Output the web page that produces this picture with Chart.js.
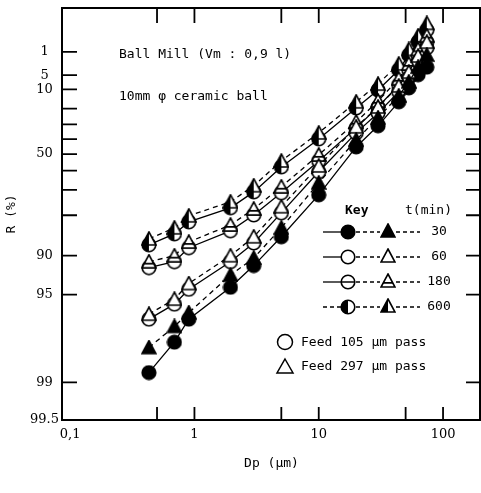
<!DOCTYPE html>
<html><head><meta charset="utf-8">
<script src="https://cdn.jsdelivr.net/npm/chart.js@4.4.0/dist/chart.umd.min.js"></script>
<style>html,body{margin:0;padding:0;background:#fff;overflow:hidden;}#wrap{width:481px;height:493px;position:relative;}canvas{display:block;}</style>
</head><body><div id="wrap"><canvas id="c"></canvas></div>
<script>
// Particle size Dp (um)
const sizes = [0.43, 0.69, 0.9, 1.95, 3, 5, 10, 20, 30, 44, 53, 63, 74];
// Residue R (%) ; c = Feed 105 um pass (circles), t = Feed 297 um pass (triangles)
const r30c  = [98.8, 97.9, 96.8, 94.3, 91.6, 86.1, 72.2, 45.3, 31.0, 16.1, 9.4, 4.9, 3.1];
const r30t  = [98.1, 97.2, 96.4, 92.9, 90.4, 83.8, 66.6, 40.6, 25.7, 13.0, 7.1, 3.1, 1.3];
const r60c  = [96.8, 95.8, 94.5, 91.0, 87.5, 79.2, 60.7, 35.8, 22.6, 11.1, 5.8, 2.2, 0.7];
const r60t  = [96.5, 95.4, 93.9, 90.0, 86.1, 77.0, 57.3, 31.7, 19.0, 8.6, 4.2, 1.4, 0.4];
const r180c = [91.9, 91.0, 88.5, 84.6, 79.9, 71.3, 54.3, 32.4, 19.0, 8.2, 3.7, 1.3, 0.39];
const r180t = [91.0, 90.0, 87.3, 83.0, 77.8, 68.5, 50.5, 28.4, 15.6, 6.1, 2.5, 0.8, 0.2];
const r600c = [87.9, 85.4, 82.1, 77.4, 70.9, 57.9, 39.9, 19.6, 10.3, 3.7, 1.3, 0.39, 0.1];
const r600t = [86.6, 83.8, 80.2, 75.1, 68.0, 54.3, 35.8, 16.1, 7.9, 2.5, 0.8, 0.2, 0.04];
const times = ['30', '60', '180', '600'];

const yTickValues = [1, 5, 10, 20, 30, 40, 50, 60, 70, 80, 90, 95, 99, 99.5];
const yTickLabels = ['1', '5', '10', '', '', '', '50', '', '', '', '90', '95', '99', '99.5'];
const xTickValues = [0.1, 0.5, 1, 5, 10, 50, 100];
const xTickLabels = ['0,1', '', '1', '', '10', '', '100'];

// Rosin-Rammler transform
const rr = R => Math.log(Math.log(100 / R));

const MONO = "'DejaVu Sans Mono', monospace";
const SERIF = "'DejaVu Serif', serif";

function marker(shape, fill, size) {
  const s = size || 16, h = s / 2;
  const c = document.createElement('canvas'); c.width = s; c.height = s;
  const g = c.getContext('2d');
  g.lineWidth = 1.6; g.strokeStyle = '#000';
  const path = () => {
    g.beginPath();
    if (shape === 'circle') g.arc(h, h, h - 1.2, 0, 2 * Math.PI);
    else { g.moveTo(h, 1.0); g.lineTo(s - 1.0, s - 2); g.lineTo(1.0, s - 2); g.closePath(); }
  };
  path(); g.fillStyle = fill === 'solid' ? '#000' : '#fff'; g.fill();
  if (fill === 'half') { g.save(); path(); g.clip(); g.fillStyle = '#000'; g.fillRect(0, 0, h, s); g.restore(); }
  if (fill === 'theta') {
    const ym = shape === 'circle' ? h : s * 0.62;
    g.save(); path(); g.clip(); g.lineWidth = 1.6; g.beginPath(); g.moveTo(0, ym); g.lineTo(s, ym); g.stroke(); g.restore();
  }
  path(); g.stroke();
  return c;
}
const fills = ['solid', 'open', 'theta', 'half'];
const circ = fills.map(f => marker('circle', f));
const tri = fills.map(f => marker('triangle', f));

const circleSeries = [r30c, r60c, r180c, r600c];
const triSeries = [r30t, r60t, r180t, r600t];

const datasets = [];
triSeries.forEach((arr, k) => datasets.push({
  label: times[k] + ' min (297 um)',
  data: sizes.map((d, i) => ({ x: d, y: rr(arr[i]) })),
  showLine: true, borderColor: '#000', borderWidth: 1.3, borderDash: [5, 4],
  pointStyle: tri[k], pointRadius: 8, pointHoverRadius: 8
}));
circleSeries.forEach((arr, k) => datasets.push({
  label: times[k] + ' min (105 um)',
  data: sizes.map((d, i) => ({ x: d, y: rr(arr[i]) })),
  showLine: true, borderColor: '#000', borderWidth: 1.3,
  pointStyle: circ[k], pointRadius: 8, pointHoverRadius: 8
}));

const framePlugin = {
  id: 'frame',
  afterDraw(chart) {
    const ctx = chart.ctx, a = chart.chartArea;
    const xs = chart.scales.x, ys = chart.scales.y;
    ctx.save();
    ctx.strokeStyle = '#000'; ctx.lineWidth = 2;
    ctx.strokeRect(a.left, a.top, a.right - a.left - 1, a.bottom - a.top);
    ctx.lineWidth = 1.8;
    yTickValues.forEach(v => {
      if (v === 99.5) return;
      const y = ys.getPixelForValue(rr(v));
      ctx.beginPath(); ctx.moveTo(a.left, y); ctx.lineTo(a.left + 15, y);
      ctx.moveTo(a.right, y); ctx.lineTo(a.right - 15, y); ctx.stroke();
    });
    xTickValues.forEach(v => {
      if (v === 0.1) return;
      const x = xs.getPixelForValue(v);
      ctx.beginPath(); ctx.moveTo(x, a.bottom); ctx.lineTo(x, a.bottom - 13);
      ctx.moveTo(x, a.top); ctx.lineTo(x, a.top + 15); ctx.stroke();
    });

    // annotations
    ctx.fillStyle = '#000';
    ctx.font = '13px ' + MONO; ctx.textAlign = 'left'; ctx.textBaseline = 'middle';
    ctx.fillText('Ball Mill (Vm : 0,9 l)', 119, 55);
    ctx.fillText('10mm \u03c6 ceramic ball', 119, 97);

    // key
    ctx.font = 'bold 13px ' + MONO;
    ctx.fillText('Key', 345, 211);
    ctx.font = '13px ' + MONO;
    ctx.fillText('t(min)', 405, 211);
    const rows = [232, 257, 282, 307];
    rows.forEach((y, k) => {
      ctx.lineWidth = 1.3;
      ctx.setLineDash(k === 3 ? [4, 3] : []);
      ctx.beginPath(); ctx.moveTo(323, y); ctx.lineTo(341, y); ctx.stroke();
      ctx.setLineDash([4, 3]);
      ctx.beginPath(); ctx.moveTo(356, y); ctx.lineTo(380, y); ctx.moveTo(396, y); ctx.lineTo(420, y); ctx.stroke();
      ctx.setLineDash([]);
      ctx.drawImage(circ[k], 348 - 8, y - 8);
      ctx.drawImage(tri[k], 388 - 8, y - 9);
      ctx.textAlign = 'center';
      ctx.fillText(times[k], 439, y);
      ctx.textAlign = 'left';
    });
    // feed legend
    ctx.lineWidth = 1.5;
    ctx.beginPath(); ctx.arc(285, 342, 7.5, 0, 2 * Math.PI); ctx.stroke();
    ctx.beginPath(); ctx.moveTo(285, 359); ctx.lineTo(293, 373); ctx.lineTo(277, 373); ctx.closePath(); ctx.stroke();
    ctx.fillText('Feed 105 \u03bcm pass', 301, 343);
    ctx.fillText('Feed 297 \u03bcm pass', 301, 367);
    ctx.restore();
  }
};

new Chart(document.getElementById('c'), {
  type: 'scatter',
  data: { datasets },
  options: {
    responsive: true, maintainAspectRatio: false, animation: false,
    layout: { autoPadding: false, padding: { top: 8, right: 0, left: 0, bottom: 0 } },
    plugins: { legend: { display: false }, tooltip: { enabled: false } },
    scales: {
      x: {
        type: 'logarithmic', min: 0.086, max: 202,
        afterBuildTicks: s => { s.ticks = xTickValues.map(v => ({ value: v })); },
        afterFit: s => { s.height = 73; s.paddingLeft = 0; s.paddingRight = 0; },
        ticks: { autoSkip: false, maxRotation: 0, minRotation: 0, padding: 7, color: '#000',
          font: { family: SERIF, size: 13 }, callback: (v, i) => xTickLabels[i] },
        grid: { display: false, drawTicks: false }, border: { display: false },
        title: { display: true, text: 'Dp (\u03bcm)', color: '#000', font: { family: MONO, size: 13 },
          padding: { top: 0, bottom: 22 } }
      },
      y: {
        type: 'linear', min: rr(99.5), max: 2.342,
        afterBuildTicks: s => { s.ticks = yTickValues.map(v => ({ value: rr(v) })); },
        afterFit: s => { s.width = 62; s.paddingTop = 0; s.paddingBottom = 0; },
        ticks: { autoSkip: false, padding: 3, crossAlign: 'center', color: '#000',
          font: { family: SERIF, size: 13 }, callback: (v, i) => yTickLabels[i] },
        grid: { display: false, drawTicks: false }, border: { display: false },
        title: { display: true, text: 'R (%)', color: '#000', font: { family: MONO, size: 13 },
          padding: { top: 4, bottom: 0 } }
      }
    }
  },
  plugins: [framePlugin]
});
</script>
</body></html>
